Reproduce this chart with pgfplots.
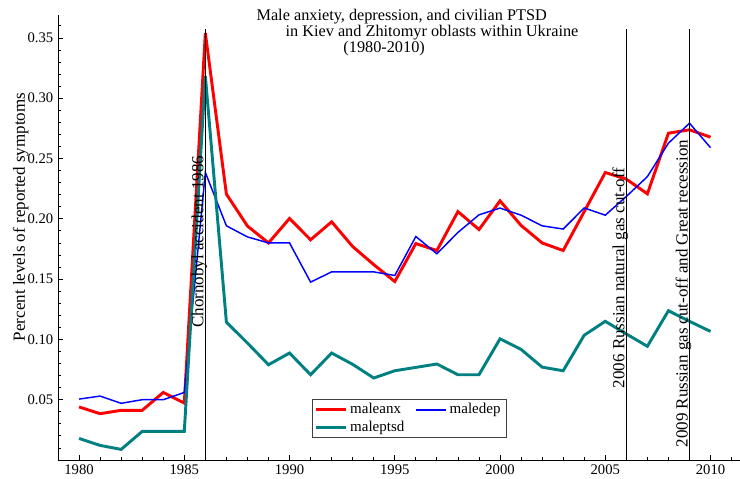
\documentclass[border=0pt]{standalone}
\usepackage{fontspec}
\setmainfont{Liberation Serif}
\usepackage{pgfplots}
\pgfplotsset{compat=1.18}
\definecolor{ptsdteal}{RGB}{0,128,128}
\definecolor{depblue}{RGB}{0,0,255}
\newcommand{\tickfont}{\fontsize{11}{13}\selectfont}
\newcommand{\labfont}{\fontsize{12.75}{15}\selectfont}
\newcommand{\titfont}{\fontsize{12.2}{14}\selectfont}
\newcommand{\legfont}{\fontsize{11.25}{13}\selectfont}

\pgfplotstableread{
year anx dep ptsd
1980 0.0440 0.0505 0.0179
1981 0.0384 0.0530 0.0121
1982 0.0412 0.0470 0.0088
1983 0.0412 0.0500 0.0237
1984 0.0560 0.0500 0.0237
1985 0.0472 0.0560 0.0237
1986 0.3540 0.2384 0.3185
1987 0.2205 0.1942 0.1143
1988 0.1940 0.1850 0.0970
1989 0.1800 0.1800 0.0790
1990 0.2003 0.1800 0.0887
1991 0.1826 0.1475 0.0707
1992 0.1975 0.1560 0.0887
1993 0.1770 0.1560 0.0793
1994 0.1620 0.1560 0.0680
1995 0.1480 0.1530 0.0740
1996 0.1795 0.1853 0.0768
1997 0.1737 0.1710 0.0796
1998 0.2060 0.1887 0.0707
1999 0.1911 0.2033 0.0707
2000 0.2149 0.2089 0.1005
2001 0.1945 0.2030 0.0917
2002 0.1800 0.1942 0.0770
2003 0.1737 0.1915 0.0740
2004 0.2060 0.2090 0.1035
2005 0.2384 0.2030 0.1150
2006 0.2329 0.2185 0.1045
2007 0.2207 0.2350 0.0943
2008 0.2710 0.2627 0.1238
2009 0.2738 0.2793 0.1150
2010 0.2677 0.2590 0.1066
}\datatable

\begin{document}
\begin{tikzpicture}
\begin{axis}[
  scale only axis,
  width=511.5pt, height=333.75pt,
  xmin=1979, xmax=2011.4, ymin=0, ymax=0.369,
  axis x line*=bottom, axis y line*=left,
  axis line style={line width=0.7pt, black},
  xtick={1980,1985,1990,1995,2000,2005,2010},
  minor xtick={1979,1981,1982,1983,1984,1986,1987,1988,1989,1991,1992,1993,1994,1996,1997,1998,1999,2001,2002,2003,2004,2006,2007,2008,2009,2011},
  ytick={0.05,0.10,0.15,0.20,0.25,0.30,0.35},
  minor ytick={0.01,0.02,0.03,0.04,0.06,0.07,0.08,0.09,0.11,0.12,0.13,0.14,0.16,0.17,0.18,0.19,0.21,0.22,0.23,0.24,0.26,0.27,0.28,0.29,0.31,0.32,0.33,0.34,0.36},
  tick align=inside,
  major tick length=3.75pt, minor tick length=2.25pt,
  tick style={black, line width=0.6pt},
  /pgf/number format/assume math mode=true,
  xticklabel style={font=\tickfont, /pgf/number format/1000 sep={}},
  yticklabel style={font=\tickfont, /pgf/number format/.cd, fixed, fixed zerofill, precision=2},
  clip=false,
  legend columns=2,
  legend style={at={(rel axis cs:0.372,0.137)}, anchor=north west,
    draw=black!75, font=\legfont, inner xsep=2pt, inner ysep=1pt,
    /tikz/every even column/.append style={column sep=6pt},
    legend cell align=left},
]
\addlegendimage{legend image code/.code={\draw[red, line width=2.2pt] (0pt,0pt) -- (22.5pt,0pt);}}
\addlegendentry{maleanx}
\addlegendimage{legend image code/.code={\draw[depblue, line width=1.5pt] (0pt,0pt) -- (22.5pt,0pt);}}
\addlegendentry{maledep}
\addlegendimage{legend image code/.code={\draw[ptsdteal, line width=2.2pt] (0pt,0pt) -- (22.5pt,0pt);}}
\addlegendentry{maleptsd}

\addplot[draw=red, line width=2.2pt, line join=miter, forget plot] table[x=year, y=anx] {\datatable};
\addplot[draw=depblue, line width=1.1pt, forget plot] table[x=year, y=dep] {\datatable};
\addplot[draw=ptsdteal, line width=2.2pt, forget plot] table[x=year, y=ptsd] {\datatable};

\draw[black, line width=0.7pt] (axis cs:1986,0) -- (axis cs:1986,0.357);
\draw[black, line width=0.7pt] (axis cs:2006,0) -- (axis cs:2006,0.357);
\draw[black, line width=0.7pt] (axis cs:2009,0) -- (axis cs:2009,0.357);

\node[rotate=90, anchor=base, inner sep=0pt, font=\labfont] at (axis cs:1985.91,0.181) {Chornobyl accident 1986};
\node[rotate=90, anchor=base, inner sep=0pt, font=\labfont] at (axis cs:2005.91,0.151) {2006 Russian natural gas cut-off};
\node[rotate=90, anchor=base, inner sep=0pt, font=\labfont] at (axis cs:2008.91,0.138) {2009 Russian gas cut-off and Great recession};

\node[rotate=90, anchor=north, inner sep=0pt, font=\labfont] at (rel axis cs:-0.0664,0.546) {Percent levels of reported symptoms};

\node[anchor=base west, inner sep=0pt, font=\titfont] at (axis cs:1988.42,0.3646) {Male anxiety, depression, and civilian PTSD};
\node[anchor=base west, inner sep=0pt, font=\titfont] at (axis cs:1989.80,0.3514) {in Kiev and Zhitomyr oblasts within Ukraine};
\node[anchor=base west, inner sep=0pt, font=\titfont] at (axis cs:1992.55,0.3381) {(1980-2010)};
\end{axis}
\pgfresetboundingbox
\path (current axis.south west) ++(-43.5pt,-14.25pt) rectangle ++(555pt,359.25pt);
\end{tikzpicture}
\end{document}
